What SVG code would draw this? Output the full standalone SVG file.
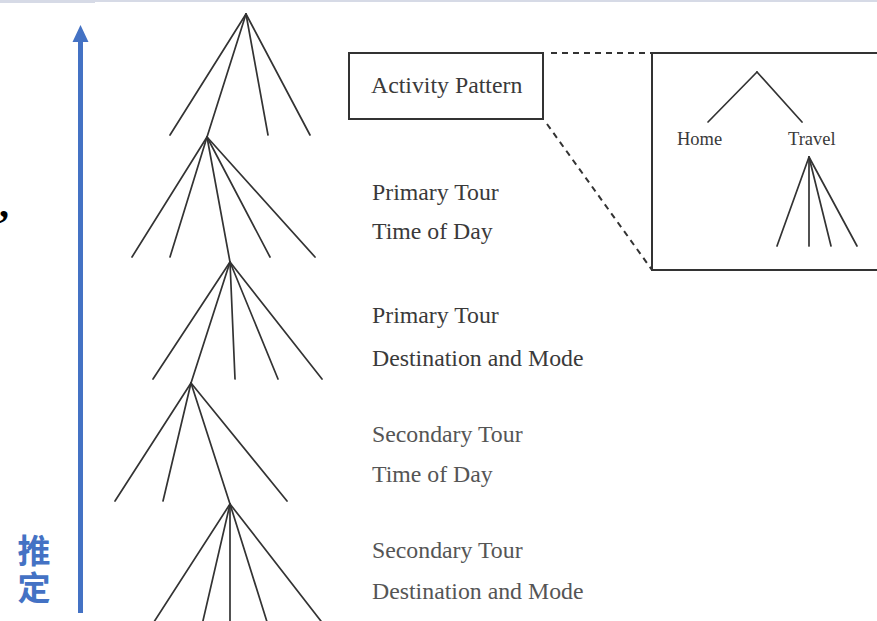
<svg xmlns="http://www.w3.org/2000/svg" width="877" height="621" viewBox="0 0 877 621">
<style>
.t{stroke:#333;stroke-width:1.7;fill:none;stroke-linecap:round}
.box{stroke:#333;stroke-width:2;fill:#fff}
.dash{stroke:#333;stroke-width:2;stroke-dasharray:6,5;fill:none}
.lbl{font-family:"Liberation Serif",serif;font-size:23.8px;fill:#3a3a3a}
.sec{fill:#555}
.sm{font-family:"Liberation Serif",serif;font-size:18.5px;fill:#3a3a3a}
.cjk{font-family:"Noto Sans CJK SC",sans-serif;font-weight:bold;font-size:33px;fill:#4472c4}
</style>
<rect width="877" height="621" fill="#fff"/>
<rect x="0" y="0" width="95" height="3" fill="#d6dae6"/>
<rect x="95" y="0" width="782" height="2" fill="#d6dae6"/>
<text x="-1" y="217" font-family="Liberation Serif,serif" font-weight="bold" font-size="40" fill="#000">,</text>
<g id="arrow">
<line x1="80.5" y1="613" x2="80.5" y2="40" stroke="#4472c4" stroke-width="5"/>
<path d="M72.5,42 L80.5,25 L88.5,42 Z" fill="#4472c4"/>
</g>
<g id="label-estimate">
<text class="cjk" x="34" y="534" writing-mode="vertical-rl" letter-spacing="4">推定</text>
</g>
<g id="connectors">
<g id="tree1" class="t">
<line x1="246" y1="14" x2="170" y2="135"/>
<line x1="246" y1="14" x2="207" y2="137"/>
<line x1="246" y1="14" x2="268" y2="135"/>
<line x1="246" y1="14" x2="310" y2="135"/>
</g>
<g id="tree2" class="t">
<line x1="207" y1="137" x2="132" y2="257"/>
<line x1="207" y1="137" x2="170" y2="257"/>
<line x1="207" y1="137" x2="230" y2="262"/>
<line x1="207" y1="137" x2="270" y2="257"/>
<line x1="207" y1="137" x2="315" y2="257"/>
</g>
<g id="tree3" class="t">
<line x1="230" y1="262" x2="153" y2="379"/>
<line x1="230" y1="262" x2="191" y2="383"/>
<line x1="230" y1="262" x2="235" y2="379"/>
<line x1="230" y1="262" x2="278" y2="379"/>
<line x1="230" y1="262" x2="322" y2="379"/>
</g>
<g id="tree4" class="t">
<line x1="191" y1="383" x2="115" y2="501"/>
<line x1="191" y1="383" x2="163" y2="501"/>
<line x1="191" y1="383" x2="230" y2="504"/>
<line x1="191" y1="383" x2="287" y2="501"/>
</g>
<g id="tree5" class="t">
<line x1="230" y1="504" x2="152" y2="625"/>
<line x1="230" y1="504" x2="202" y2="625"/>
<line x1="230" y1="504" x2="230" y2="625"/>
<line x1="230" y1="504" x2="268" y2="625"/>
<line x1="230" y1="504" x2="324" y2="625"/>
</g>
<g id="zoom-lines">
<line class="dash" x1="551" y1="53" x2="652" y2="53"/>
<line class="dash" x1="547" y1="124" x2="652" y2="270"/>
</g>
<g id="inset-tree" class="t">
<line x1="757" y1="72" x2="708" y2="122"/>
<line x1="757" y1="72" x2="802" y2="122"/>
<line x1="809" y1="157" x2="777" y2="246"/>
<line x1="809" y1="157" x2="809" y2="246"/>
<line x1="809" y1="157" x2="831" y2="246"/>
<line x1="809" y1="157" x2="857" y2="246"/>
</g>
</g>
<g id="activity-pattern">
<rect class="box" x="349" y="53" width="194" height="66"/>
<text class="lbl" x="371" y="93" font-size="21">Activity Pattern</text>
</g>
<g id="inset">
<path d="M880,53 L652,53 L652,270 L880,270" stroke="#333" stroke-width="2" fill="none"/>
<text class="sm" x="677" y="145">Home</text>
<text class="sm" x="788" y="145">Travel</text>
</g>
<g id="primary-tod">
<text class="lbl" x="372" y="200">Primary Tour</text>
<text class="lbl" x="372" y="239">Time of Day</text>
</g>
<g id="primary-dm">
<text class="lbl" x="372" y="323">Primary Tour</text>
<text class="lbl" x="372" y="366">Destination and Mode</text>
</g>
<g id="secondary-tod">
<text class="lbl sec" x="372" y="442">Secondary Tour</text>
<text class="lbl sec" x="372" y="482">Time of Day</text>
</g>
<g id="secondary-dm">
<text class="lbl sec" x="372" y="558">Secondary Tour</text>
<text class="lbl sec" x="372" y="599">Destination and Mode</text>
</g>
</svg>
